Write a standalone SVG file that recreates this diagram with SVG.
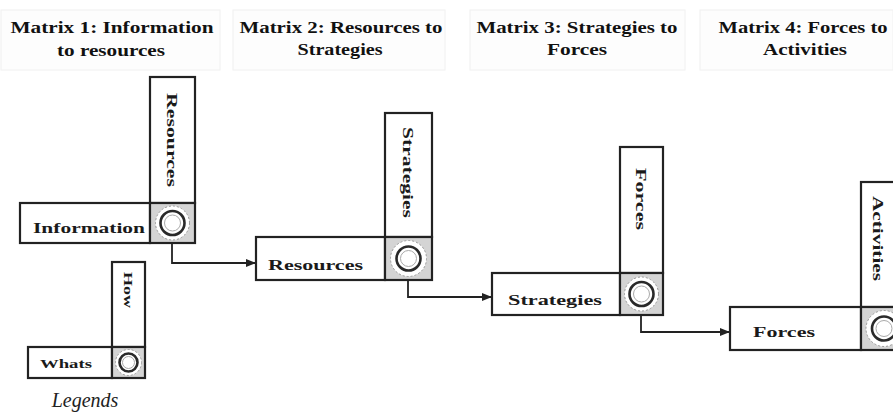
<svg xmlns="http://www.w3.org/2000/svg" width="893" height="414" viewBox="0 0 893 414">
<defs>
<style>
.title{font-family:"Liberation Serif",serif;font-weight:bold;font-size:16px;fill:#111;text-anchor:middle}
.lbl{font-family:"Liberation Serif",serif;font-weight:bold;font-size:15px;fill:#1a1a1a}
.box{fill:#fff;stroke:#222;stroke-width:2.2}
.corner{fill:#d4d4d4;stroke:#222;stroke-width:2.2}
.halo{fill:#fff;stroke:#999;stroke-width:1;stroke-dasharray:2 2}
.ring{fill:#fff;stroke:#2a2a2a;stroke-width:2.6}
.inner{fill:#fff;stroke:#aaa;stroke-width:1}
.conn{fill:none;stroke:#222;stroke-width:1.8}
.tbox{fill:#fdfdfd;stroke:#f0f0f0;stroke-width:1}
</style>
<marker id="arr" markerWidth="10" markerHeight="8" refX="9" refY="4" orient="auto" markerUnits="userSpaceOnUse">
<path d="M0,0 L10,4 L0,8 Z" fill="#222"/>
</marker>
</defs>
<rect width="893" height="414" fill="#fff"/>
<g id="titles">
<rect class="tbox" x="1" y="10" width="219" height="60"/>
<rect class="tbox" x="233" y="10" width="212" height="60"/>
<rect class="tbox" x="470" y="10" width="215" height="60"/>
<rect class="tbox" x="700" y="10" width="193" height="60"/>
<text class="title" x="112" y="33" textLength="203" lengthAdjust="spacingAndGlyphs">Matrix 1: Information</text>
<text class="title" x="111" y="56" textLength="108" lengthAdjust="spacingAndGlyphs">to resources</text>
<text class="title" x="341" y="33" textLength="203" lengthAdjust="spacingAndGlyphs">Matrix 2: Resources to</text>
<text class="title" x="340" y="55" textLength="85" lengthAdjust="spacingAndGlyphs">Strategies</text>
<text class="title" x="577" y="33" textLength="201" lengthAdjust="spacingAndGlyphs">Matrix 3: Strategies to</text>
<text class="title" x="577" y="55" textLength="60" lengthAdjust="spacingAndGlyphs">Forces</text>
<text class="title" x="803" y="33" textLength="169" lengthAdjust="spacingAndGlyphs">Matrix 4: Forces to</text>
<text class="title" x="805" y="55" textLength="84" lengthAdjust="spacingAndGlyphs">Activities</text>
</g>
<g id="connectors">
<path class="conn" d="M172,244 V263 H255" marker-end="url(#arr)"/>
<path class="conn" d="M408,281 V297 H491" marker-end="url(#arr)"/>
<path class="conn" d="M641,316 V332 H729" marker-end="url(#arr)"/>
</g>
<g id="matrix1">
<rect class="box" x="150" y="77" width="45" height="126"/>
<rect class="box" x="20" y="203" width="130" height="40"/>
<rect class="corner" x="150" y="203" width="45" height="40"/>
<circle class="halo" cx="172.5" cy="223" r="17"/>
<circle class="ring" cx="172.5" cy="223" r="12"/>
<circle class="inner" cx="172.5" cy="223" r="8"/>
<text class="lbl" x="33" y="233" textLength="112" lengthAdjust="spacingAndGlyphs">Information</text>
<text class="lbl" transform="translate(167,93) rotate(90)" textLength="94" lengthAdjust="spacingAndGlyphs">Resources</text>
</g>
<g id="matrix2">
<rect class="box" x="385" y="113" width="47" height="124"/>
<rect class="box" x="256" y="237" width="129" height="43"/>
<rect class="corner" x="385" y="237" width="47" height="43"/>
<circle class="halo" cx="408.5" cy="258.5" r="18"/>
<circle class="ring" cx="408.5" cy="258.5" r="12"/>
<circle class="inner" cx="408.5" cy="258.5" r="8"/>
<text class="lbl" x="268" y="270" textLength="95" lengthAdjust="spacingAndGlyphs">Resources</text>
<text class="lbl" transform="translate(403,127) rotate(90)" textLength="91" lengthAdjust="spacingAndGlyphs">Strategies</text>
</g>
<g id="matrix3">
<rect class="box" x="620" y="147" width="43" height="126"/>
<rect class="box" x="492" y="273" width="128" height="42"/>
<rect class="corner" x="620" y="273" width="43" height="42"/>
<circle class="halo" cx="641.5" cy="294" r="17"/>
<circle class="ring" cx="641.5" cy="294" r="12"/>
<circle class="inner" cx="641.5" cy="294" r="8"/>
<text class="lbl" x="508" y="305" textLength="94" lengthAdjust="spacingAndGlyphs">Strategies</text>
<text class="lbl" transform="translate(636,168) rotate(90)" textLength="62" lengthAdjust="spacingAndGlyphs">Forces</text>
</g>
<g id="matrix4">
<rect class="box" x="861" y="182" width="45" height="125"/>
<rect class="box" x="730" y="307" width="131" height="43"/>
<rect class="corner" x="861" y="307" width="45" height="43"/>
<circle class="halo" cx="884" cy="328.5" r="18"/>
<circle class="ring" cx="884" cy="328.5" r="12"/>
<circle class="inner" cx="884" cy="328.5" r="8"/>
<text class="lbl" x="753" y="337" textLength="62" lengthAdjust="spacingAndGlyphs">Forces</text>
<text class="lbl" transform="translate(873,196) rotate(90)" textLength="85" lengthAdjust="spacingAndGlyphs">Activities</text>
</g>
<g id="legend">
<rect class="box" x="112" y="262" width="33" height="85"/>
<rect class="box" x="28" y="347" width="84" height="31"/>
<rect class="corner" x="112" y="347" width="33" height="31"/>
<circle class="halo" cx="128.5" cy="362.5" r="13"/>
<circle class="ring" cx="128.5" cy="362.5" r="9"/>
<circle class="inner" cx="128.5" cy="362.5" r="6"/>
<text class="lbl" style="font-size:13px" x="40" y="368" textLength="52" lengthAdjust="spacingAndGlyphs">Whats</text>
<text class="lbl" style="font-size:13px" transform="translate(124,272) rotate(90)" textLength="36" lengthAdjust="spacingAndGlyphs">How</text>
<text x="85" y="407" text-anchor="middle" style="font-family:'Liberation Serif',serif;font-style:italic;font-size:20px;fill:#222">Legends</text>
</g>
</svg>
